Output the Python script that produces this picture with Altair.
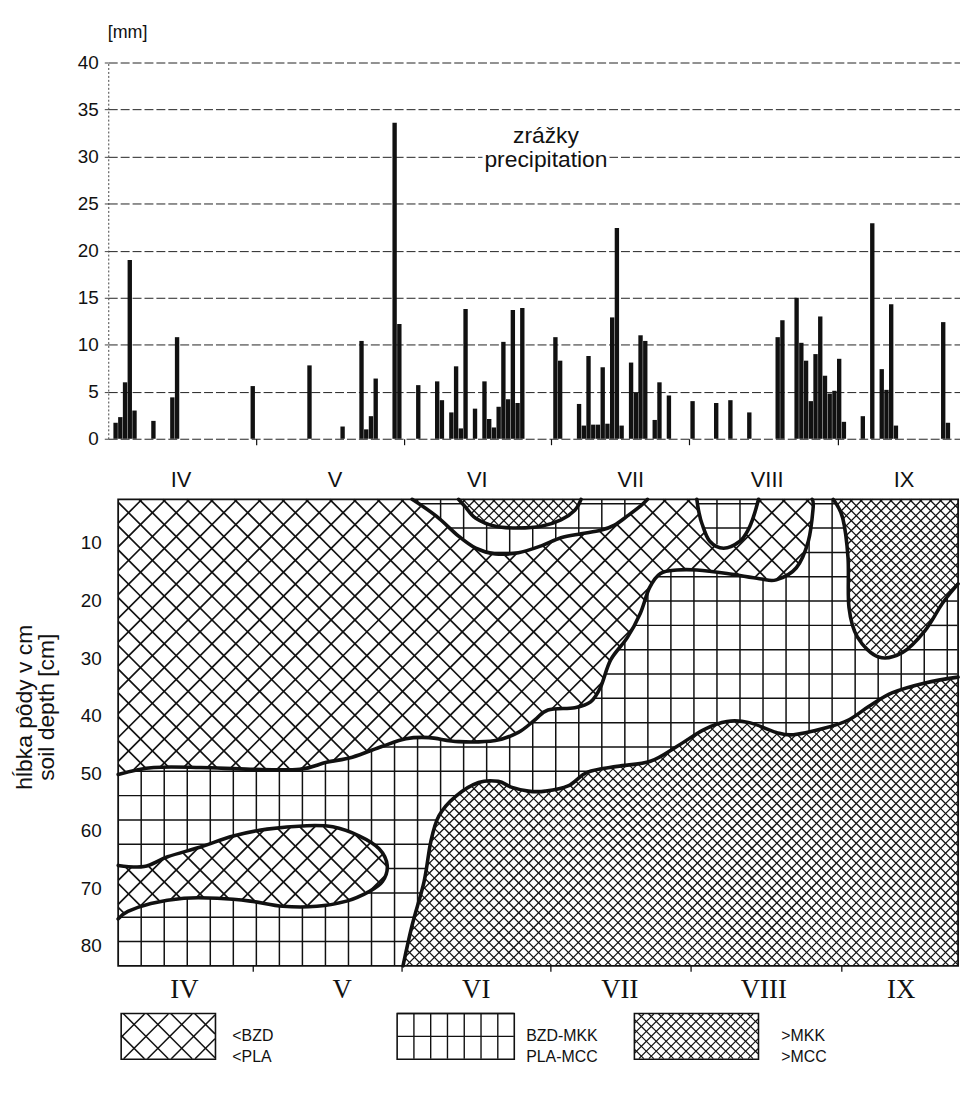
import json
import numpy as np
import pandas as pd
import altair as alt

# ---------------- precipitation (day 0 = 1 April) ----------------
RAIN_DAY = [0, 1, 2, 3, 4, 8, 12, 13, 29, 41, 48, 52, 53, 54, 55, 59, 60, 64,
            68, 69, 71, 72, 73, 74, 76, 78, 79, 80, 81, 82, 83, 84, 85, 86,
            93, 94, 98, 99, 100, 101, 102, 103, 104, 105, 106, 107, 109, 110,
            111, 112, 114, 115, 117, 122, 127, 130, 134, 140, 141, 144, 145,
            146, 147, 148, 149, 150, 151, 152, 153, 154, 158, 160, 162, 163,
            164, 165, 175, 176]
RAIN_MM = [1.7, 2.3, 6.0, 19.0, 3.0, 1.9, 4.4, 10.8, 5.6, 7.8, 1.3, 10.4, 1.0,
           2.4, 6.4, 33.6, 12.2, 5.7, 6.1, 4.1, 2.8, 7.7, 1.1, 13.8, 3.2, 6.1,
           2.1, 1.2, 3.4, 10.3, 4.2, 13.7, 3.8, 13.9, 10.8, 8.3, 3.7, 1.4, 8.8,
           1.5, 1.5, 7.6, 1.6, 12.9, 22.4, 1.4, 8.1, 4.9, 11.0, 10.4, 2.0, 6.0,
           4.6, 4.0, 3.8, 4.1, 2.8, 10.8, 12.6, 15.0, 10.2, 8.3, 4.0, 9.0, 13.0,
           6.7, 4.8, 5.1, 8.5, 1.8, 2.4, 22.9, 7.4, 5.2, 14.3, 1.4, 12.4, 1.7]

MM_TICKS = [0, 5, 10, 15, 20, 25, 30, 35, 40]
MONTH_TICK_DAY = [30.3, 61.4, 92.5, 121.8, 153.3]
MONTH_NAMES = ["IV", "V", "VI", "VII", "VIII", "IX"]
MONTH_LABEL_DAY_TOP = [15.1, 47.3, 77.0, 109.1, 137.6, 166.2]
MONTH_LABEL_DAY_BOTTOM = [15.8, 48.8, 76.8, 106.8, 136.9, 165.6]
PRECIP_LABEL = ["zrážky", "precipitation"]
PRECIP_LABEL_DAY = 91.5
PRECIP_LABEL_MM = 32.2

# ---------------- soil moisture isopleths (day, depth cm) ----------------
DEPTH_TICKS = [10, 20, 30, 40, 50, 60, 70, 80]
FRAME_DAY = [2.07, 177.6]
FRAME_DEPTH = [2.41, 83.45]

EDGE_A_DAY = [2.07, 9.5, 19.3, 29.7, 40.0, 45.6, 51.0, 57.3, 62.2, 67.0, 73.2,
              80.9, 85.7, 89.2, 91.9, 97.5, 100.8, 102.9, 105.0, 108.5, 111.2,
              113.1, 115.4, 118.9, 123.0, 129.3, 136.1, 139.6, 143.8, 146.3,
              147.3, 147.1]
EDGE_A_DEPTH = [50.2, 49.0, 49.0, 49.3, 49.3, 48.1, 47.2, 45.3, 44.0, 43.8,
                44.5, 44.3, 42.9, 40.7, 39.0, 38.6, 37.6, 35.0, 30.3, 26.4,
                22.2, 17.8, 15.3, 14.7, 14.7, 15.3, 16.2, 16.4, 14.3, 9.7,
                4.0, 2.41]
B_VIII_DAY = [123.0, 123.4, 124.1, 125.7, 128.6, 132.0, 133.8, 134.9, 135.9]
B_VIII_DEPTH = [2.41, 4.5, 6.7, 9.7, 10.9, 9.7, 7.6, 5.3, 2.41]
B_VI_DAY = [63.5, 68.5, 73.2, 76.8, 80.9, 85.7, 90.5, 94.6, 98.8, 102.9,
            105.8, 108.5, 111.2, 112.7]
B_VI_DEPTH = [2.41, 5.3, 8.8, 10.9, 11.9, 11.7, 10.5, 9.1, 8.4, 7.8, 6.9, 5.3,
              3.6, 2.41]
C_VI_DAY = [73.2, 74.5, 76.8, 80.9, 85.7, 90.5, 94.6, 97.5, 98.8]
C_VI_DEPTH = [2.41, 3.6, 5.7, 7.1, 7.4, 7.1, 6.0, 4.3, 2.41]
A_ISLAND_DAY = [2.07, 7.5, 12.4, 19.3, 26.1, 33.2, 41.5, 46.9, 52.5, 56.6,
                58.3, 57.3, 54.6, 49.8, 43.6, 36.5, 29.7, 22.8, 15.8, 8.9,
                4.1, 2.07]
A_ISLAND_DEPTH = [66.0, 66.2, 64.5, 62.8, 60.9, 59.7, 59.1, 59.3, 60.9, 63.1,
                  66.0, 68.8, 70.5, 72.2, 73.1, 73.1, 72.2, 71.7, 71.7, 72.6,
                  74.0, 75.3]
C_LOW_DAY = [61.6, 63.5, 66.0, 67.4, 69.1, 72.6, 77.4, 81.5, 84.2, 87.8, 91.3,
             96.1, 100.2, 106.4, 113.3, 118.9, 124.5, 129.3, 134.0, 139.6,
             143.2, 150.0, 154.8, 158.9, 163.9, 170.7, 177.6]
C_LOW_DEPTH = [83.45, 76.4, 68.8, 61.9, 57.4, 54.0, 51.6, 51.4, 52.4, 53.1,
               53.1, 52.2, 49.8, 48.8, 47.9, 45.3, 42.4, 41.0, 41.2, 42.9,
               43.3, 42.1, 40.7, 38.4, 36.0, 34.3, 33.3]
C_IX_DAY = [151.5, 153.5, 154.6, 154.8, 156.6, 161.0, 166.0, 170.7, 174.3, 177.6]
C_IX_DEPTH = [2.41, 5.7, 12.6, 21.2, 26.4, 29.8, 29.0, 25.2, 20.5, 17.1]

LEGEND_TEXT = [["<BZD", "<PLA"], ["BZD-MKK", "PLA-MCC"], [">MKK", ">MCC"]]

# ---------------- layout / style ----------------
W = 858
X_DOMAIN = [0, 178.0]
H_TOP = 379
H_BOT = 483
D_DOMAIN = [0.17, 83.45]
H_LEG = 46
LEG_BOX_X = [(13, 108), (291, 409), (530, 655)]
LEG_TEXT_X = [125, 421, 678]
INK = "#111111"
SANS = "Liberation Sans"
SERIF = "Liberation Serif"

sx = W / (X_DOMAIN[1] - X_DOMAIN[0])
sy = H_BOT / (D_DOMAIN[1] - D_DOMAIN[0])


def to_px(days, depths):
    return np.column_stack([(np.asarray(days) - X_DOMAIN[0]) * sx,
                            (np.asarray(depths) - D_DOMAIN[0]) * sy])


def inside(poly, X, Y):
    px, py = poly[:, 0], poly[:, 1]
    n = len(px)
    res = np.zeros(X.shape, bool)
    j = n - 1
    for i in range(n):
        xi, yi, xj, yj = px[i], py[i], px[j], py[j]
        if yi != yj:
            cond = (yi > Y) != (yj > Y)
            xint = (xj - xi) * (Y - yi) / (yj - yi) + xi
            res ^= cond & (X < xint)
        j = i
    return res


def hatch(region, code, kind, spacing, off=0.0):
    Hh, Ww = region.shape
    segs = []

    def collect(xs, ys):
        if len(xs) == 0:
            return
        ok = (xs >= 0) & (xs < Ww) & (ys >= 0) & (ys < Hh)
        ix = np.clip(np.floor(xs).astype(int), 0, Ww - 1)
        iy = np.clip(np.floor(ys).astype(int), 0, Hh - 1)
        m = ok & (region[iy, ix] == code)
        d = np.diff(np.concatenate([[0], m.astype(np.int8), [0]]))
        st = np.where(d == 1)[0]
        en = np.where(d == -1)[0] - 1
        for s, e in zip(st, en):
            if e - s >= 2:
                segs.append((xs[s], ys[s], xs[e], ys[e]))

    if kind == "v":
        for c in np.arange(off, Ww, spacing):
            ys = np.arange(0, Hh, 0.5)
            collect(np.full_like(ys, c), ys)
    elif kind == "h":
        for c in np.arange(off, -1, -spacing):
            xs = np.arange(0, Ww, 0.5)
            collect(xs, np.full_like(xs, c))
    elif kind == "d1":
        for c in np.arange(off % spacing, Ww + Hh, spacing):
            xs = np.arange(max(0, c - Hh), min(Ww, c), 0.5)
            collect(xs, c - xs)
    elif kind == "d2":
        for c in np.arange(-Hh + (off % spacing), Ww, spacing):
            xs = np.arange(max(0, c), min(Ww, c + Hh), 0.5)
            collect(xs, xs - c)
    return segs


# ---- classify bottom panel ----
fr = to_px(FRAME_DAY, FRAME_DEPTH)
fx0, fy0 = fr[0]
fx1, fy1 = fr[1]
Xg, Yg = np.meshgrid(np.arange(W) + 0.5, np.arange(H_BOT) + 0.5)
inframe = (Xg >= fx0) & (Xg <= fx1) & (Yg >= fy0) & (Yg <= fy1)

poly_a = to_px([FRAME_DAY[0]] + EDGE_A_DAY, [FRAME_DEPTH[0]] + EDGE_A_DEPTH)
poly_bvi = to_px(B_VI_DAY, B_VI_DEPTH)
poly_bviii = to_px(B_VIII_DAY, B_VIII_DEPTH)
poly_cvi = to_px(C_VI_DAY, C_VI_DEPTH)
poly_isl = to_px(A_ISLAND_DAY, A_ISLAND_DEPTH)
poly_clow = to_px(C_LOW_DAY + [FRAME_DAY[1]], C_LOW_DEPTH + [FRAME_DEPTH[1]])
poly_cix = to_px(C_IX_DAY + [FRAME_DAY[1]], C_IX_DEPTH + [FRAME_DEPTH[0]])

in_a = (inside(poly_a, Xg, Yg) & ~inside(poly_bvi, Xg, Yg)
        & ~inside(poly_bviii, Xg, Yg)) | inside(poly_isl, Xg, Yg)
in_c = inside(poly_clow, Xg, Yg) | inside(poly_cix, Xg, Yg) | inside(poly_cvi, Xg, Yg)
region = np.zeros((H_BOT, W), np.int8)
region[inframe] = 2
region[inframe & in_a] = 1
region[inframe & in_c] = 3

rows = []
for seg_list, w in [
    (hatch(region, 1, "d1", 24, fx0 + fy0) + hatch(region, 1, "d2", 24, fx0 - fy0), 1.7),
    (hatch(region, 2, "v", 23.2, fx0 + 23.2) + hatch(region, 2, "h", 24.5, fy1 - 24.5), 1.5),
    (hatch(region, 3, "d1", 10, fx0 + fy0) + hatch(region, 3, "d2", 10, fx0 - fy0), 1.3),
]:
    for (x1, y1, x2, y2) in seg_list:
        rows.append({"x": round(x1 / sx + X_DOMAIN[0], 3), "x2": round(x2 / sx + X_DOMAIN[0], 3),
                     "y": round(y1 / sy + D_DOMAIN[0], 3), "y2": round(y2 / sy + D_DOMAIN[0], 3),
                     "w": w})
hatch_df = pd.DataFrame(rows)

curve_rows = []
for name, dd, dp in [("a", EDGE_A_DAY, EDGE_A_DEPTH), ("bviii", B_VIII_DAY, B_VIII_DEPTH),
                     ("bvi", B_VI_DAY, B_VI_DEPTH), ("cvi", C_VI_DAY, C_VI_DEPTH),
                     ("isl", A_ISLAND_DAY, A_ISLAND_DEPTH), ("clow", C_LOW_DAY, C_LOW_DEPTH),
                     ("cix", C_IX_DAY, C_IX_DEPTH)]:
    for i, (d, p) in enumerate(zip(dd, dp)):
        curve_rows.append({"curve": name, "ord": i, "day": d, "depth": p})
curve_df = pd.DataFrame(curve_rows)

# ---------------- charts ----------------
x_scale = alt.Scale(domain=X_DOMAIN, nice=False, zero=False)
mm_scale = alt.Scale(domain=[0, 40], nice=False, zero=True)
d_scale = alt.Scale(domain=D_DOMAIN, nice=False, zero=False, reverse=True)


def label_expr(days):
    return f"{json.dumps(MONTH_NAMES)}[indexof({json.dumps(days)}, datum.value)]"


rain = pd.DataFrame({"day": RAIN_DAY, "mm": RAIN_MM})
bars = alt.Chart(rain).transform_calculate(mid="datum.day + 0.5").mark_bar(
    color=INK, size=4.4
).encode(
    x=alt.X("mid:Q", scale=x_scale,
            axis=alt.Axis(values=MONTH_TICK_DAY, labels=False, ticks=True, tickSize=6,
                          tickColor=INK, tickWidth=1.2, domain=False, grid=False, title=None)),
    y=alt.Y("mm:Q", scale=mm_scale,
            axis=alt.Axis(values=MM_TICKS, grid=True, gridDash=[9, 3], gridColor="#222222",
                          gridWidth=1, domainDash=[2, 2], domainColor="#444444",
                          tickSize=4, tickColor="#444444", labelFontSize=19, labelPadding=6,
                          title="[mm]", titleAngle=0, titleAlign="center", titleBaseline="middle",
                          titleX=19, titleY=-30, titleFontSize=18)),
)
plabel = pd.DataFrame({"day": [PRECIP_LABEL_DAY], "mm": [PRECIP_LABEL_MM], "t": [PRECIP_LABEL]})
halo = alt.Chart(plabel).mark_text(fontSize=23, lineHeight=24, baseline="middle", align="center",
                                   stroke="white", strokeWidth=7, fill="white").encode(
    x=alt.X("day:Q", scale=x_scale, axis=None), y=alt.Y("mm:Q", scale=mm_scale, axis=None), text="t")
ptext = alt.Chart(plabel).mark_text(fontSize=23, lineHeight=24, baseline="middle", align="center",
                                    color=INK).encode(
    x=alt.X("day:Q", scale=x_scale, axis=None), y=alt.Y("mm:Q", scale=mm_scale, axis=None), text="t")
top = alt.layer(bars, halo, ptext).resolve_axis(x="independent", y="independent").properties(
    width=W, height=H_TOP)

hatch_layer = alt.Chart(hatch_df).mark_rule(color=INK).encode(
    x=alt.X("x:Q", scale=x_scale,
            axis=alt.Axis(orient="bottom", values=MONTH_LABEL_DAY_BOTTOM,
                          labelExpr=label_expr(MONTH_LABEL_DAY_BOTTOM), ticks=False, tickSize=0,
                          domain=False, grid=False, labelFont=SERIF, labelFontSize=27,
                          labelPadding=11, title=None)),
    x2="x2:Q",
    y=alt.Y("y:Q", scale=d_scale,
            axis=alt.Axis(values=DEPTH_TICKS, ticks=False, domain=False, grid=False,
                          labelFontSize=19, labelPadding=7,
                          title=["hĺbka pôdy v cm", "soil depth [cm]"], titleFontSize=23,
                          titleX=-84, titleY=222, titleAlign="center", titleBaseline="middle",
                          titleAngle=-90, titleLineHeight=22)),
    y2="y2:Q",
    strokeWidth=alt.StrokeWidth("w:Q", scale=None),
)
frame_df = pd.DataFrame({"x": [FRAME_DAY[0]], "x2": [FRAME_DAY[1]],
                         "y": [FRAME_DEPTH[0]], "y2": [FRAME_DEPTH[1]]})
frame = alt.Chart(frame_df).mark_rect(filled=False, stroke=INK, strokeWidth=1.8).encode(
    x=alt.X("x:Q", scale=x_scale, axis=None), x2="x2:Q",
    y=alt.Y("y:Q", scale=d_scale, axis=None), y2="y2:Q")
curves = alt.Chart(curve_df).mark_line(color=INK, strokeWidth=3.6, interpolate="cardinal",
                                       strokeJoin="round", strokeCap="round").encode(
    x=alt.X("day:Q", scale=x_scale,
            axis=alt.Axis(orient="top", values=MONTH_LABEL_DAY_TOP,
                          labelExpr=label_expr(MONTH_LABEL_DAY_TOP), ticks=False, tickSize=0,
                          domain=False, grid=False, labelFontSize=22, labelPadding=-5, title=None)),
    y=alt.Y("depth:Q", scale=d_scale, axis=None),
    detail="curve:N", order="ord:Q")
tick_df = pd.DataFrame({"x": MONTH_TICK_DAY, "y": [FRAME_DEPTH[1]] * len(MONTH_TICK_DAY)})
bticks = alt.Chart(tick_df).mark_rule(color=INK, strokeWidth=1.3).encode(
    x=alt.X("x:Q", scale=x_scale, axis=None),
    y=alt.Y("y:Q", scale=d_scale, axis=None), y2=alt.value(H_BOT + 6))
bottom = alt.layer(hatch_layer, frame, curves, bticks).resolve_axis(
    x="independent", y="independent").properties(width=W, height=H_BOT)

# ---- legend ----
LXg, LYg = np.meshgrid(np.arange(W) + 0.5, np.arange(H_LEG) + 0.5)
lreg = np.zeros((H_LEG, W), np.int8)
for k, (a, b) in enumerate(LEG_BOX_X):
    lreg[(LXg >= a) & (LXg <= b)] = k + 1
lrows = []
for seg_list, w in [
    (hatch(lreg, 1, "d1", 24, LEG_BOX_X[0][0]) + hatch(lreg, 1, "d2", 24, LEG_BOX_X[0][0]), 1.5),
    (hatch(lreg, 2, "v", 16.9, LEG_BOX_X[1][0] + 16.9) + hatch(lreg, 2, "h", 23, 23), 1.4),
    (hatch(lreg, 3, "d1", 10, LEG_BOX_X[2][0]) + hatch(lreg, 3, "d2", 10, LEG_BOX_X[2][0]), 1.2),
]:
    for (x1, y1, x2, y2) in seg_list:
        lrows.append({"x": round(x1, 2), "x2": round(x2, 2), "y": round(y1, 2), "y2": round(y2, 2), "w": w})
leg_hatch_df = pd.DataFrame(lrows)
lx = alt.Scale(domain=[0, W], nice=False, zero=False)
ly = alt.Scale(domain=[0, H_LEG], nice=False, zero=False, reverse=True)
leg_hatch = alt.Chart(leg_hatch_df).mark_rule(color=INK).encode(
    x=alt.X("x:Q", scale=lx, axis=None), x2="x2:Q",
    y=alt.Y("y:Q", scale=ly, axis=None), y2="y2:Q",
    strokeWidth=alt.StrokeWidth("w:Q", scale=None))
leg_box_df = pd.DataFrame({"x": [a for a, b in LEG_BOX_X], "x2": [b for a, b in LEG_BOX_X],
                           "y": [0] * 3, "y2": [H_LEG] * 3})
leg_box = alt.Chart(leg_box_df).mark_rect(filled=False, stroke=INK, strokeWidth=1.6).encode(
    x=alt.X("x:Q", scale=lx, axis=None), x2="x2:Q",
    y=alt.Y("y:Q", scale=ly, axis=None), y2="y2:Q")
leg_text_df = pd.DataFrame({"x": LEG_TEXT_X, "y": [H_LEG / 2] * 3, "t": LEGEND_TEXT})
leg_text = alt.Chart(leg_text_df).mark_text(fontSize=16, lineHeight=21, align="left",
                                            baseline="middle", color=INK).encode(
    x=alt.X("x:Q", scale=lx, axis=None), y=alt.Y("y:Q", scale=ly, axis=None), text="t")
legend = alt.layer(leg_hatch, leg_box, leg_text).properties(width=W, height=H_LEG)

chart = alt.vconcat(top, bottom, legend, spacing=48, bounds="flush").properties(
    padding={"left": 6, "top": 12, "right": 0, "bottom": 4}
).configure_view(stroke=None).configure_axis(
    labelFont=SANS, titleFont=SANS, labelColor=INK, titleColor=INK, titleFontWeight="normal"
).configure_text(font=SANS)

chart.save("out.html", embed_options={"renderer": "svg", "actions": False})
